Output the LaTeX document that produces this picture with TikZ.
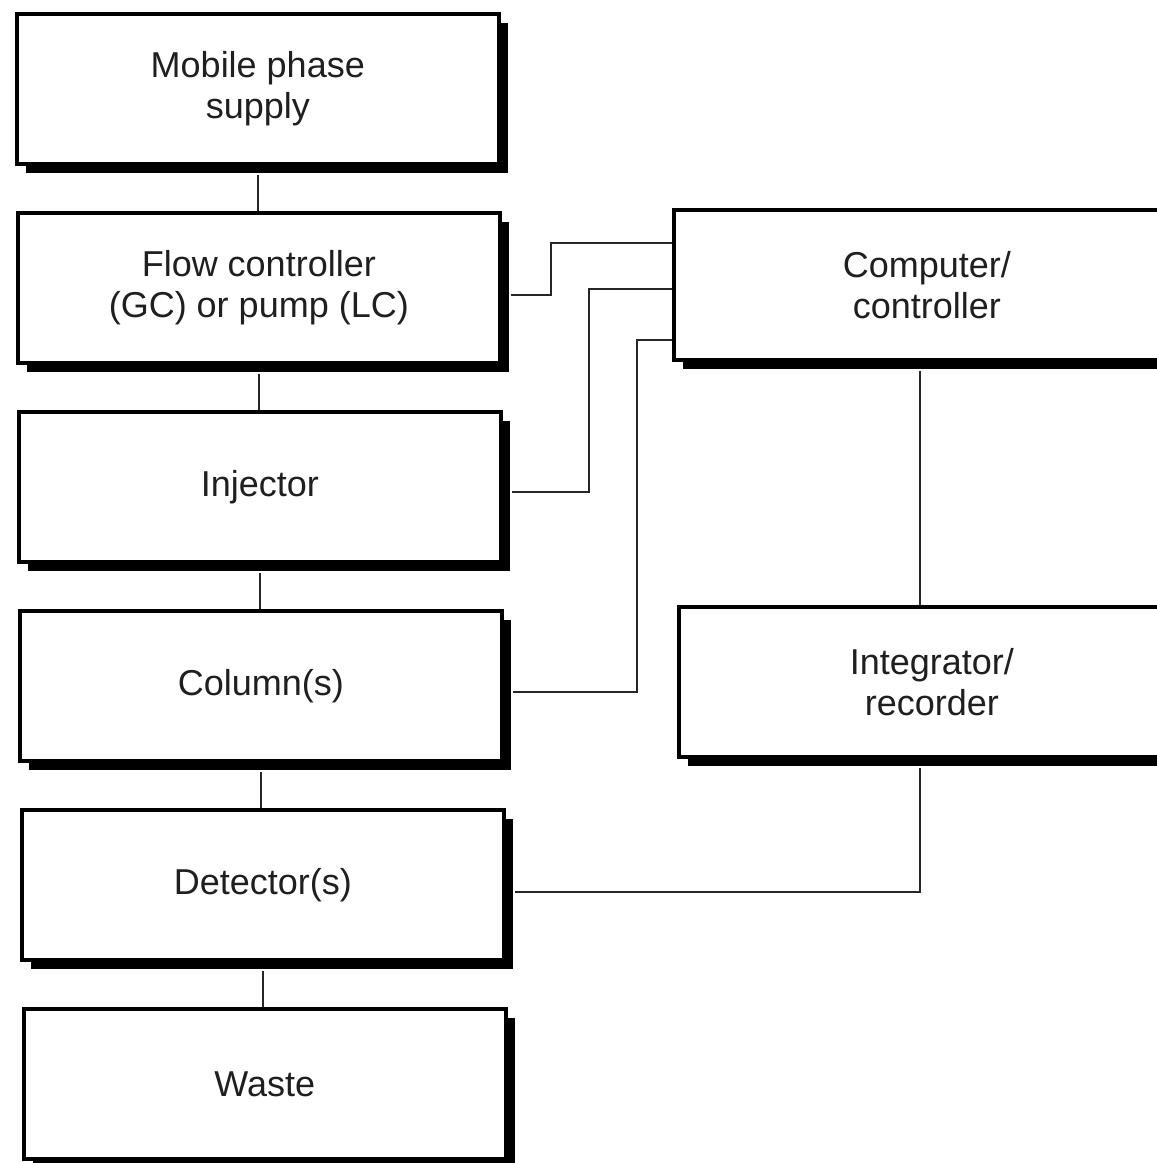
\documentclass[tikz,border=0pt]{standalone}
\usepackage{fontspec}
\setmainfont{Liberation Sans}
\usetikzlibrary{shadows,calc}
\begin{document}
\begin{tikzpicture}[x=1pt,y=-1pt,
  blk/.style={draw=black, line width=3.6pt, fill=white, anchor=north west,
    minimum width=482pt, minimum height=150pt, inner sep=0pt, align=center,
    text=black!88, font=\fontsize{36}{41}\selectfont,
    drop shadow={shadow xshift=9pt, shadow yshift=-9pt, fill=black, opacity=1}},
  wblk/.style={blk, minimum width=506pt},
  conn/.style={draw=black!85, line width=1.8pt}]
\useasboundingbox (0,0) rectangle (1157,1163);
\coordinate (vx) at (920,0);
% connectors drawn first
\node[blk] (m) at (15,12) {Mobile phase\\supply};
\node[blk] (f) at (16,211) {Flow controller\\(GC) or pump (LC)};
\node[blk] (i) at (17,410) {Injector};
\node[blk] (k) at (18,609) {Column(s)};
\node[blk] (d) at (20,808) {Detector(s)};
\node[blk] (w) at (22,1007) {Waste};
\node[wblk] (c) at (672,208) {Computer/\\controller};
\node[wblk] (g) at (677,605) {Integrator/\\recorder};
\begin{scope}[on background layer/.try]
\end{scope}
\draw[conn] ([yshift=-9pt]m.south) -- (m.south |- f.north);
\draw[conn] ([yshift=-9pt]f.south) -- (f.south |- i.north);
\draw[conn] ([yshift=-9pt]i.south) -- (i.south |- k.north);
\draw[conn] ([yshift=-9pt]k.south) -- (k.south |- d.north);
\draw[conn] ([yshift=-9pt]d.south) -- (d.south |- w.north);
\draw[conn] ([xshift=9pt,yshift=-7pt]f.east) -- ++(40,0) |- ([yshift=41.5pt]c.west);
\draw[conn] ([xshift=9pt,yshift=-5pt]i.east) -- ++(77,0) |- ([yshift=-4.5pt]c.west);
\draw[conn] ([xshift=9pt,yshift=-6pt]k.east) -- ++(124,0) |- ([yshift=-55.5pt]c.west);
\draw[conn] ([yshift=-9pt]c.south -| vx) -- (g.north -| vx);
\draw[conn] ([yshift=-9pt]g.south -| vx) |- ([xshift=9pt,yshift=-7pt]d.east);
\end{tikzpicture}
\end{document}
